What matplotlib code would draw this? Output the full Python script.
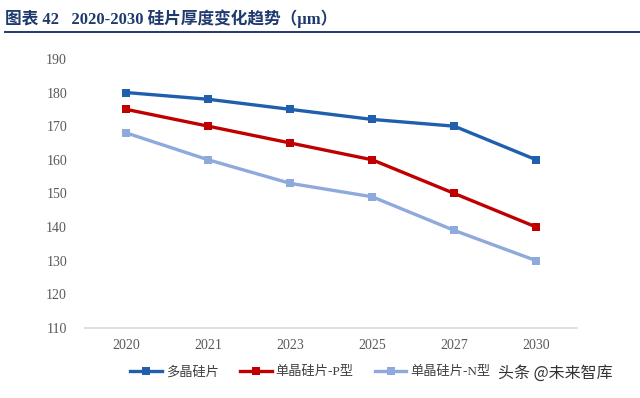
import matplotlib
matplotlib.use("Agg")
import matplotlib.pyplot as plt
from matplotlib.lines import Line2D

plt.rcParams["font.family"] = ["Liberation Serif", "Noto Sans CJK SC", "DejaVu Sans"]

years = ["2020", "2021", "2023", "2025", "2027", "2030"]
poly = [180, 178, 175, 172, 170, 160]
mono_p = [175, 170, 165, 160, 150, 140]
mono_n = [168, 160, 153, 149, 139, 130]

series_names = ["多晶硅片", "单晶硅片-P型", "单晶硅片-N型"]
colors = ["#1F5FAD", "#C00000", "#8EA9DB"]

fig = plt.figure(figsize=(6.4, 3.98), dpi=100)
ax = fig.add_axes([0.133, 0.176, 0.769, 0.676])

x = range(len(years))
for vals, name, color in zip([poly, mono_p, mono_n], series_names, colors):
    ax.plot(x, vals, color=color, lw=2.4, marker="s", markersize=5.5,
            markeredgewidth=0, label=name)

ax.set_xlim(-0.5, len(years) - 0.5)
ax.set_ylim(110, 190)
ax.set_yticks(range(110, 191, 10))
ax.set_xticks(list(x))
ax.set_xticklabels(years)
for spine in ("top", "right", "left"):
    ax.spines[spine].set_visible(False)
ax.spines["bottom"].set_color("#D9D9D9")
ax.spines["bottom"].set_linewidth(1.2)
ax.tick_params(axis="both", length=0, labelsize=10, colors="#595959")
ax.tick_params(axis="y", pad=13)
ax.tick_params(axis="x", pad=8)

handles = [Line2D([], [], color=c, lw=2.4, marker="s", markersize=5.5, markeredgewidth=0)
           for c in colors]
fig.legend(handles, series_names, loc="center", bbox_to_anchor=(0.485, 0.065), ncol=3,
           frameon=False, fontsize=9.5, handlelength=2.4, columnspacing=1.6,
           handletextpad=0.3, labelcolor="#404040")

fig.text(0.008, 0.952, "图表 42   2020-2030 硅片厚度变化趋势（μm）", fontsize=12,
         fontweight="bold", color="#1F3A6E", va="center", ha="left")
fig.add_artist(Line2D([0.008, 1.0], [0.92, 0.92], color="#1F3A6E", lw=1.4,
                      transform=fig.transFigure))

fig.text(0.957, 0.063, "头条 @未来智库", fontsize=11.5, color="#333333", ha="right",
         va="center", family=["Noto Sans CJK SC", "DejaVu Sans"])

fig.savefig("out.png", dpi=100)
